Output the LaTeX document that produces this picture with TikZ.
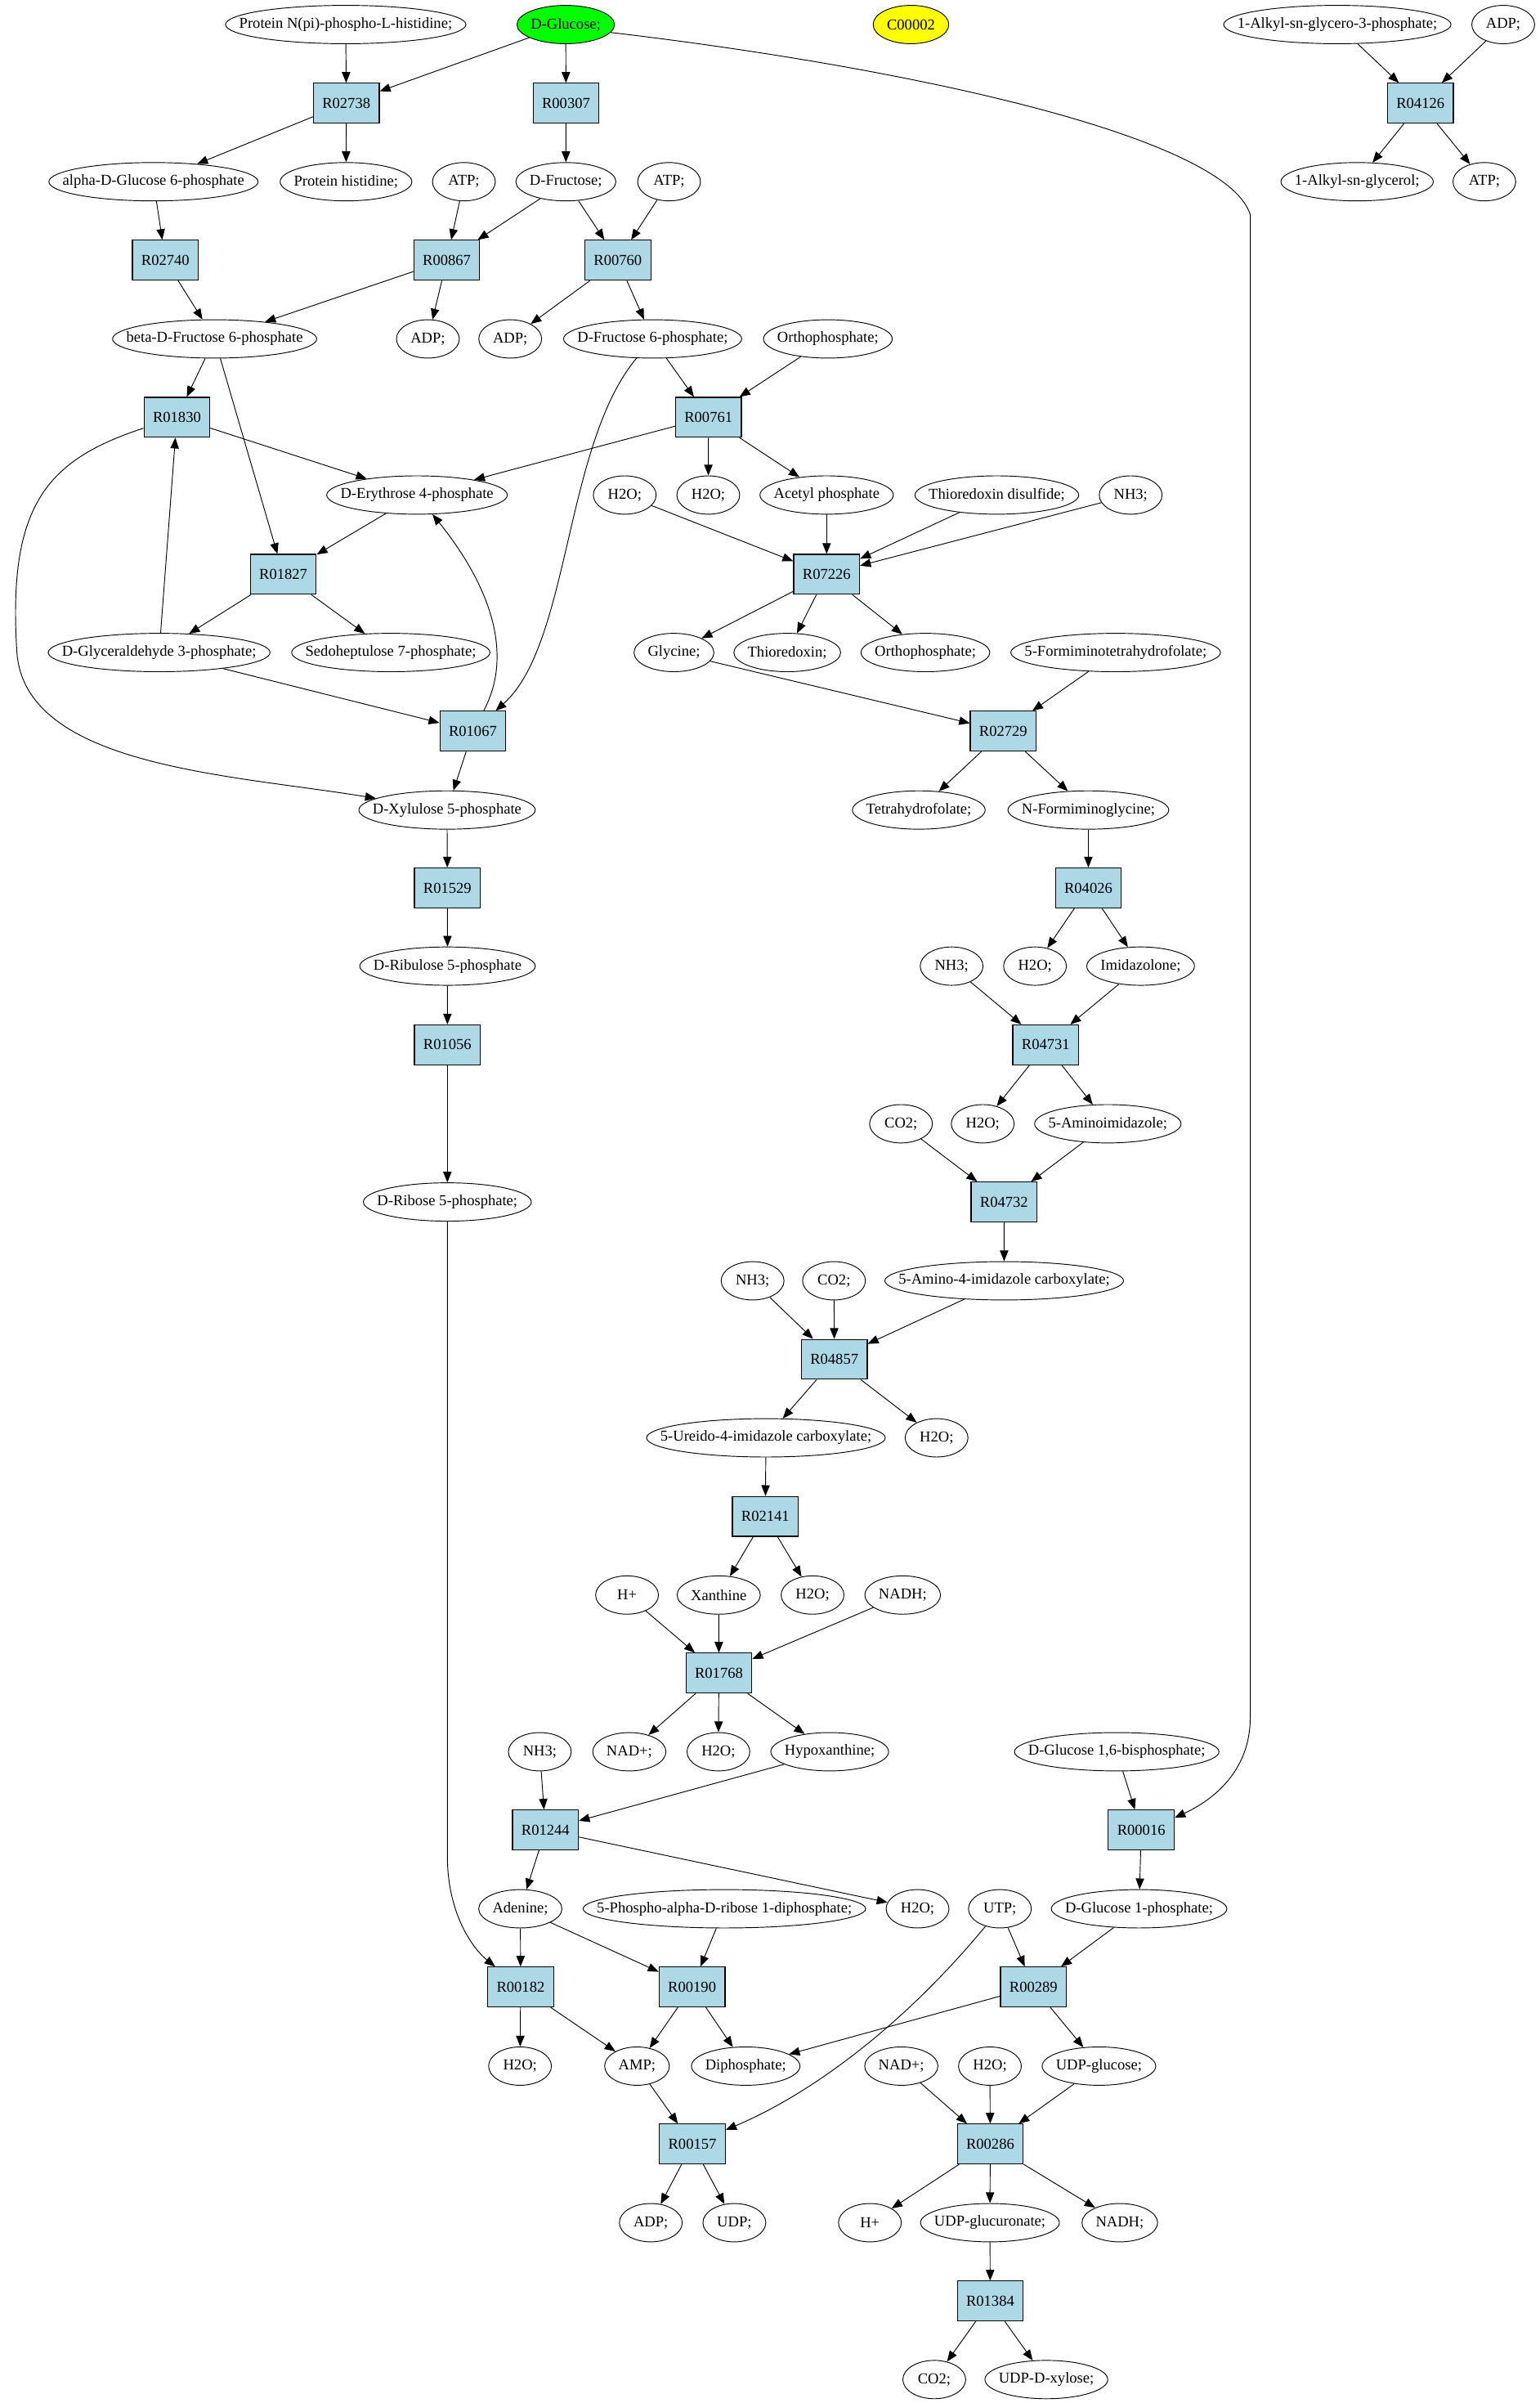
\documentclass[tikz,border=0pt]{standalone}
\usepackage{fontspec}
\setmainfont{Liberation Serif}
\usepackage{xcolor}
\usepackage{tikz}
\usetikzlibrary{arrows.meta,shapes.geometric}

\definecolor{rxnblue}{RGB}{173,216,230}
\definecolor{startgreen}{RGB}{0,255,0}
\definecolor{cpdyellow}{RGB}{255,255,0}
\newcommand\metfont{\fontsize{9.9}{11.5}\selectfont}
\newlength\metwd
% compound ellipse: [options] name, position, label
\newcommand\met[4][]{%
  \pgfinterruptpicture
    \setbox0=\hbox{\normalfont\metfont #4}\global\metwd=\wd0
  \endpgfinterruptpicture
  \pgfmathsetlengthmacro\metmw{max(41pt,\metwd+18pt)}%
  \node[cpd,minimum width=\metmw,#1] (#2) at (#3) {\makebox[0pt]{#4}};}

\tikzset{
  rxn/.style={draw,fill=rxnblue,line width=0.6pt,minimum width=43pt,
    minimum height=26pt,inner sep=0pt,font=\metfont},
  cpd/.style={ellipse,draw,line width=0.5pt,minimum height=25pt,
    inner sep=0pt,font=\metfont},
  link/.style={-{Triangle[length=7pt,width=5.5pt]},line width=0.5pt}
}

\begin{document}
\begin{tikzpicture}[x=1pt,y=-1pt]
\useasboundingbox (0,0) rectangle (1004,1567);
% reactions
\foreach \n/\x/\y in {R02738/225.9/67.3, R00307/369.2/67.3, R04126/926.5/67.3,
    R02740/107.9/169.7, R00867/291.4/169.7, R00760/403.0/169.7,
    R01830/115.4/272.1, R00761/462.1/272.1, R01827/184.8/374.5,
    R07226/539.2/374.5, R01067/308.4/476.8, R02729/654.4/476.8,
    R01529/291.8/579.0, R04026/709.9/579.0, R01056/291.8/681.3,
    R04731/682.1/681.3, R04732/654.9/783.8, R04857/544.2/886.4,
    R02141/499.2/988.8, R01768/468.9/1091.0, R01244/355.8/1193.3,
    R00016/744.4/1193.3, R00182/339.6/1295.7, R00190/451.4/1295.7,
    R00289/674.1/1295.7, R00157/451.6/1398.1, R00286/645.9/1398.1,
    R01384/645.9/1500.5}
  \node[rxn] (\n) at (\x,\y) {\n};
% compounds
\met{prot}{225.5,16}{Protein N(pi)-phospho-L-histidine;}
\met[fill=startgreen]{glc}{369,16}{D-Glucose;}
\met[fill=cpdyellow]{c00002}{594.2,16}{C00002}
\met{alkylp}{872.3,16}{1-Alkyl-sn-glycero-3-phosphate;}
\met{adpA}{980.5,16}{ADP;}
\met{aG6P}{100.1,118.5}{alpha-D-Glucose 6-phosphate}
\met{protHis}{225.7,118.5}{Protein histidine;}
\met{atpA}{302.6,118.5}{ATP;}
\met{fru}{369.1,118.5}{D-Fructose;}
\met{atpB}{436.4,118.5}{ATP;}
\met{alkylgl}{885.2,118.5}{1-Alkyl-sn-glycerol;}
\met{atpC}{968.2,118.5}{ATP;}
\met{bF6P}{140,221}{beta-D-Fructose 6-phosphate}
\met{adpB}{279.1,221}{ADP;}
\met{adpC}{332.8,221}{ADP;}
\met{dF6P}{425.7,221}{D-Fructose 6-phosphate;}
\met{orthoA}{540,221}{Orthophosphate;}
\met{e4p}{272,322.8}{D-Erythrose 4-phosphate}
\met{h2oA}{407.5,322.8}{H2O;}
\met{h2oB}{462,322.8}{H2O;}
\met{acP}{539.2,322.8}{Acetyl phosphate}
\met{trxSS}{650.2,322.8}{Thioredoxin disulfide;}
\met{nh3A}{737.5,322.8}{NH3;}
\met{g3p}{103.8,425.5}{D-Glyceraldehyde 3-phosphate;}
\met{s7p}{254.9,425.5}{Sedoheptulose 7-phosphate;}
\met{gly}{439.6,425.5}{Glycine;}
\met{trx}{513.5,425.5}{Thioredoxin;}
\met{orthoB}{603.6,425.5}{Orthophosphate;}
\met{fthf}{727.7,425.5}{5-Formiminotetrahydrofolate;}
\met{x5p}{291.6,528.2}{D-Xylulose 5-phosphate}
\met{thf}{599.3,528.2}{Tetrahydrofolate;}
\met{fgly}{709.9,528.2}{N-Formiminoglycine;}
\met{ru5p}{291.9,630}{D-Ribulose 5-phosphate}
\met{nh3B}{620.7,630}{NH3;}
\met{h2oC}{675.1,630}{H2O;}
\met{imz}{744,630}{Imidazolone;}
\met{co2A}{587.7,732.8}{CO2;}
\met{h2oD}{641,732.8}{H2O;}
\met{aim}{722.6,732.8}{5-Aminoimidazole;}
\met{r5p}{291.8,783.8}{D-Ribose 5-phosphate;}
\met{nh3C}{490.9,835.2}{NH3;}
\met{co2B}{544,835.2}{CO2;}
\met{aica}{655,835.2}{5-Amino-4-imidazole carboxylate;}
\met{uaic}{499.6,937.6}{5-Ureido-4-imidazole carboxylate;}
\met{h2oE}{610.9,937.6}{H2O;}
\met{hA}{409,1040.1}{H+}
\met{xan}{468.8,1040.1}{Xanthine}
\met{h2oF}{530,1040.1}{H2O;}
\met{nadhA}{588.8,1040.1}{NADH;}
\met{nh3D}{352.1,1142.3}{NH3;}
\met{nadA}{410.5,1142.3}{NAD+;}
\met{h2oG}{468.6,1142.3}{H2O;}
\met{hyp}{541.2,1142.3}{Hypoxanthine;}
\met{g16bp}{728.4,1142.3}{D-Glucose 1,6-bisphosphate;}
\met{ade}{339.4,1244.7}{Adenine;}
\met{prpp}{472.5,1244.7}{5-Phospho-alpha-D-ribose 1-diphosphate;}
\met{h2oH}{598.5,1244.7}{H2O;}
\met{utp}{652.2,1244.7}{UTP;}
\met{g1p}{743,1244.7}{D-Glucose 1-phosphate;}
\met{h2oI}{339.2,1347.3}{H2O;}
\met{amp}{415.5,1347.3}{AMP;}
\met{ppi}{486.4,1347.3}{Diphosphate;}
\met{nadB}{587.9,1347.3}{NAD+;}
\met{h2oJ}{645.7,1347.3}{H2O;}
\met{udpg}{716.8,1347.3}{UDP-glucose;}
\met{adpD}{424.5,1449.4}{ADP;}
\met{udp}{479,1449.4}{UDP;}
\met{hB}{567.4,1449.4}{H+}
\met{udpga}{645.7,1449.4}{UDP-glucuronate;}
\met{nadhB}{730.4,1449.4}{NADH;}
\met{co2C}{609.4,1551.7}{CO2;}
\met{udpx}{682.5,1551.7}{UDP-D-xylose;}
% straight links
\foreach \a/\b in {prot/R02738, glc/R02738, glc/R00307, R02738/aG6P,
    R02738/protHis, R00307/fru, atpA/R00867, fru/R00867, fru/R00760,
    atpB/R00760, aG6P/R02740, R02740/bF6P, R00867/bF6P, R00867/adpB,
    R00760/adpC, R00760/dF6P, bF6P/R01830, bF6P/R01827, dF6P/R00761,
    orthoA/R00761, R01830/e4p, R00761/e4p, R00761/h2oB, R00761/acP,
    e4p/R01827, g3p/R01830, R01827/g3p, R01827/s7p, g3p/R01067,
    R01067/x5p, h2oA/R07226, acP/R07226, trxSS/R07226, nh3A/R07226,
    R07226/gly, R07226/trx, R07226/orthoB, gly/R02729, fthf/R02729,
    R02729/thf, R02729/fgly, fgly/R04026, R04026/h2oC, R04026/imz,
    nh3B/R04731, imz/R04731, R04731/h2oD, R04731/aim, co2A/R04732,
    aim/R04732, R04732/aica, nh3C/R04857, co2B/R04857, aica/R04857,
    R04857/uaic, R04857/h2oE, uaic/R02141, R02141/xan, R02141/h2oF,
    hA/R01768, xan/R01768, nadhA/R01768, R01768/nadA, R01768/h2oG,
    R01768/hyp, nh3D/R01244, hyp/R01244, R01244/ade, R01244/h2oH,
    x5p/R01529, R01529/ru5p, ru5p/R01056, R01056/r5p, ade/R00182,
    ade/R00190, prpp/R00190, R00182/h2oI, R00182/amp, R00190/amp,
    R00190/ppi, g16bp/R00016, R00016/g1p, utp/R00289, g1p/R00289,
    R00289/ppi, R00289/udpg, amp/R00157, R00157/adpD, R00157/udp,
    nadB/R00286, h2oJ/R00286, udpg/R00286, R00286/hB, R00286/udpga,
    R00286/nadhB, udpga/R01384, R01384/co2C, R01384/udpx,
    alkylp/R04126, adpA/R04126, R04126/alkylgl, R04126/atpC}
  \draw[link] (\a) -- (\b);
% curved links
\draw[link] (glc.350) .. controls (600,45) and (800,90) .. (815.5,140)
  -- (815.5,1120) .. controls (815.5,1152) and (795,1172) .. (R00016.20);
\draw[link] (dF6P) .. controls (368,290) and (372,420) .. (R01067);
\draw[link] (R01067) .. controls (336,425) and (318,380) .. (e4p);
\draw[link] (R01830) .. controls (30,300) and (5,330) .. (11,425)
  .. controls (16,500) and (150,505) .. (x5p);
\draw[link] (utp) .. controls (590,1320) and (530,1365) .. (R00157);
\draw[link] (r5p) -- (291.8,1210) .. controls (291.8,1250) and (310,1272) .. (R00182);
\end{tikzpicture}
\end{document}
